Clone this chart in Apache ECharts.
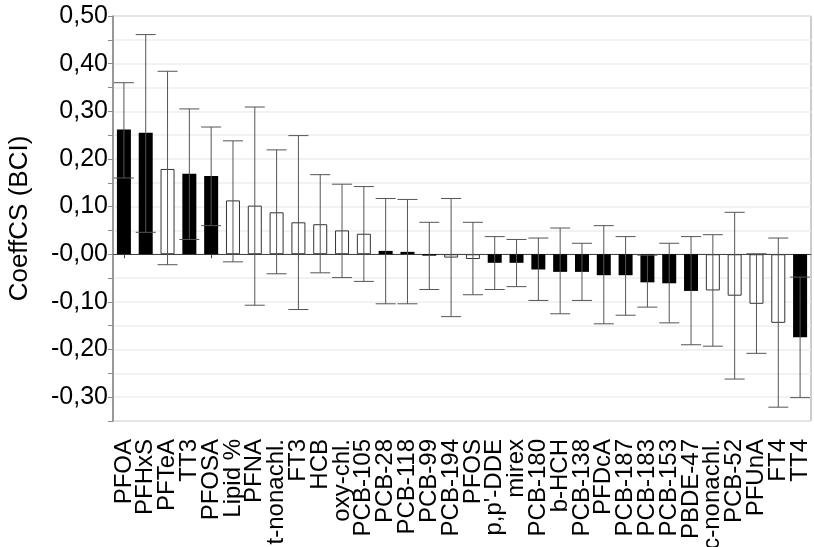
<!DOCTYPE html>
<html>
<head>
<meta charset="utf-8">
<script src="https://cdn.jsdelivr.net/npm/echarts@6/dist/echarts.min.js"></script>
<style>
  html, body { margin: 0; padding: 0; background: #fff; }
  #coeffChart { width: 814px; height: 547px; }
</style>
</head>
<body>
<div id="coeffChart"></div>
<script>
// compounds, in plotted order
const categories = ['PFOA', 'PFHxS', 'PFTeA', 'TT3', 'PFOSA', 'Lipid %', 'PFNA', 't-nonachl.',
  'FT3', 'HCB', 'oxy-chl.', 'PCB-105', 'PCB-28', 'PCB-118', 'PCB-99', 'PCB-194', 'PFOS',
  "p,p'-DDE", 'mirex', 'PCB-180', 'b-HCH', 'PCB-138', 'PFDcA', 'PCB-187', 'PCB-183',
  'PCB-153', 'PBDE-47', 'c-nonachl.', 'PCB-52', 'PFUnA', 'FT4', 'TT4'];

// coefficient (bar height)
const coeff = [0.262, 0.255, 0.179, 0.169, 0.164, 0.113, 0.102, 0.088, 0.067, 0.063, 0.050,
  0.043, 0.007, 0.005, -0.003, -0.007, -0.010, -0.018, -0.018, -0.032, -0.037, -0.037,
  -0.044, -0.044, -0.059, -0.061, -0.077, -0.076, -0.087, -0.104, -0.144, -0.174];

// confidence interval ends
const ciUpper = [0.360, 0.461, 0.384, 0.305, 0.267, 0.238, 0.309, 0.219, 0.249, 0.167, 0.147,
  0.142, 0.117, 0.115, 0.067, 0.117, 0.067, 0.037, 0.031, 0.034, 0.055, 0.023, 0.060, 0.037,
  -0.002, 0.023, 0.037, 0.041, 0.088, 0.001, 0.034, -0.048];
const ciLower = [0.160, 0.046, -0.022, 0.031, 0.060, -0.016, -0.107, -0.041, -0.116, -0.039,
  -0.049, -0.057, -0.104, -0.104, -0.074, -0.131, -0.085, -0.074, -0.068, -0.097, -0.125,
  -0.097, -0.146, -0.128, -0.111, -0.144, -0.190, -0.193, -0.262, -0.208, -0.321, -0.301];

// 1 = black (significant) bar, 0 = open bar
const filled = [1, 1, 0, 1, 1, 0, 0, 0, 0, 0, 0, 0, 1, 1, 1, 0, 0, 1, 1, 1, 1, 1, 1, 1, 1, 1, 1,
  0, 0, 0, 0, 1];

const chart = echarts.init(document.getElementById('coeffChart'));

const barData = coeff.map((v, i) => ({
  value: v,
  itemStyle: filled[i]
    ? { color: '#000', borderColor: '#000', borderWidth: 0 }
    : { color: '#fff', borderColor: '#333', borderWidth: 1 }
}));

const errData = categories.map((c, i) => [i, ciLower[i], ciUpper[i]]);

const option = {
  animation: false,
  backgroundColor: '#fff',
  textStyle: { fontFamily: 'Liberation Sans, Arial, sans-serif' },
  grid: {
    left: 113,
    top: 16,
    width: 698,
    height: 405,
    containLabel: false,
    outerBoundsMode: 'none',
    show: true,
    borderColor: '#999',
    borderWidth: 1,
    backgroundColor: 'transparent'
  },
  xAxis: [
    {
      // the zero line with its small category ticks
      type: 'category',
      data: categories,
      position: 'top',
      axisLine: { show: true, onZero: true, lineStyle: { color: '#444', width: 1 } },
      axisTick: { show: true, inside: true, alignWithLabel: true, length: 4, lineStyle: { color: '#444' } },
      axisLabel: { show: false },
      splitLine: { show: false }
    },
    {
      // labels along the bottom
      type: 'category',
      data: categories,
      position: 'bottom',
      axisLine: { show: false, onZero: false },
      axisTick: { show: false },
      axisLabel: {
        interval: 0,
        rotate: 90,
        margin: 18,
        fontSize: 24,
        padding: [6, 0, 0, 0],
        color: '#000',
        fontFamily: 'Liberation Sans, Arial, sans-serif'
      },
      splitLine: { show: false }
    }
  ],
  yAxis: {
    type: 'value',
    min: -0.35,
    max: 0.5,
    interval: 0.05,
    name: 'CoeffCS (BCI)',
    nameLocation: 'middle',
    nameRotate: 90,
    nameGap: 80,
    nameTextStyle: { fontSize: 26, color: '#000', fontFamily: 'Liberation Sans, Arial, sans-serif' },
    axisLine: { show: true, lineStyle: { color: '#888', width: 1.5 } },
    axisTick: { show: true, length: 5, lineStyle: { color: '#888' } },
    axisLabel: {
      margin: 5,
      fontSize: 25,
      padding: [6, 0, 0, 0],
      color: '#000',
      fontFamily: 'Liberation Sans, Arial, sans-serif',
      formatter: function (v) {
        const k = Math.round(v * 100);
        if (k % 10 !== 0) return '';
        if (k === 0) return '-0,00';
        return (k / 100).toFixed(2).replace('.', ',');
      }
    },
    splitLine: { show: true, lineStyle: { color: '#eee', width: 1.5 } }
  },
  series: [
    {
      name: 'CoeffCS',
      type: 'bar',
      xAxisIndex: 0,
      data: barData,
      barWidth: 14,
      z: 2
    },
    {
      name: 'BCI',
      type: 'custom',
      xAxisIndex: 0,
      data: errData,
      z: 3,
      renderItem: function (params, api) {
        const lo = api.coord([api.value(0), api.value(1)]);
        const hi = api.coord([api.value(0), api.value(2)]);
        const half = 10;
        const style = { stroke: '#555', lineWidth: 1 };
        return {
          type: 'group',
          children: [
            { type: 'line', shape: { x1: hi[0], y1: hi[1], x2: lo[0], y2: lo[1] }, style: style },
            { type: 'line', shape: { x1: hi[0] - half, y1: hi[1], x2: hi[0] + half, y2: hi[1] }, style: style },
            { type: 'line', shape: { x1: lo[0] - half, y1: lo[1], x2: lo[0] + half, y2: lo[1] }, style: style }
          ]
        };
      }
    }
  ]
};

chart.setOption(option);
</script>
</body>
</html>
